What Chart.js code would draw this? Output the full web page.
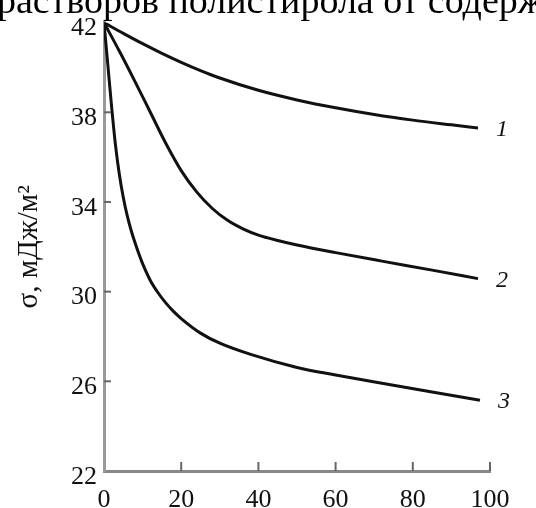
<!DOCTYPE html>
<html>
<head>
<meta charset="utf-8">
<script src="https://cdn.jsdelivr.net/npm/chart.js@4.4.0/dist/chart.umd.min.js"></script>
<style>
  html, body { margin: 0; padding: 0; background: #fff; }
  #wrap { width: 536px; height: 508px; position: relative; overflow: hidden; }
</style>
</head>
<body>
<div id="wrap"><canvas id="myChart" width="536" height="508"></canvas></div>
<script>
// кривые 1, 2, 3: σ (мДж/м²) от содержания
const curve1X = [0, 5, 10, 15, 20, 25, 30, 40, 50, 60, 70, 80, 90, 96.9];
const curve1Y = [42, 41.52, 41.06, 40.63, 40.23, 39.86, 39.53, 38.98, 38.55, 38.2, 37.9, 37.65, 37.44, 37.3];

const curve2X = [0, 4, 8, 12, 16, 20, 24, 28, 32, 36, 40, 45, 50, 60, 72, 85, 96.9];
const curve2Y = [42, 40.72, 39.38, 38.0, 36.62, 35.4, 34.45, 33.72, 33.18, 32.8, 32.52, 32.28, 32.08, 31.74, 31.36, 30.96, 30.58];

const curve3X = [0, 1, 2, 3, 4, 5, 6, 7, 8, 9, 10, 12, 14, 16, 18, 20, 25, 30, 38, 50, 60, 72, 85, 97.4];
const curve3Y = [42, 40.1, 38.2, 36.5, 35.2, 34.2, 33.4, 32.75, 32.2, 31.7, 31.25, 30.5, 29.95, 29.5, 29.12, 28.8, 28.15, 27.7, 27.2, 26.62, 26.28, 25.91, 25.52, 25.16];

const curveLabels = ['1', '2', '3'];
const xTicks = [0, 20, 40, 60, 80, 100];
const yTicks = [22, 26, 30, 34, 38, 42];
const yTitle = 'σ, мДж/м²';
const headerText = 'растворов полистирола от содерж';

const toPoints = (xs, ys) => xs.map((x, i) => ({ x: x, y: ys[i] }));

/* обрезанная строка сверху, засечки внутрь и номера кривых */
const extras = {
  id: 'extras',
  beforeDraw(chart) {
    const { ctx } = chart;
    ctx.save();
    ctx.font = '38px "Liberation Serif"';
    ctx.textBaseline = 'alphabetic';
    ctx.fillStyle = '#000';
    ctx.fillText(headerText, -3, 13);
    ctx.restore();
  },
  afterDraw(chart) {
    const { ctx, scales: { x, y } } = chart;
    ctx.save();
    // засечки
    ctx.strokeStyle = '#666';
    ctx.lineWidth = 2;
    xTicks.slice(1).forEach((v) => {
      const px = x.getPixelForValue(v);
      ctx.beginPath();
      ctx.moveTo(px, y.bottom);
      ctx.lineTo(px, y.bottom - 9);
      ctx.stroke();
    });
    yTicks.slice(1, -1).forEach((v) => {
      const py = y.getPixelForValue(v);
      ctx.beginPath();
      ctx.moveTo(x.left, py);
      ctx.lineTo(x.left + 7, py);
      ctx.stroke();
    });
    // номера кривых
    ctx.fillStyle = '#111';
    ctx.font = 'italic 24px "Liberation Serif"';
    ctx.textBaseline = 'middle';
    ctx.textAlign = 'left';
    chart.data.datasets.forEach((ds, i) => {
      const last = ds.data[ds.data.length - 1];
      ctx.fillText(curveLabels[i], x.getPixelForValue(last.x) + 18, y.getPixelForValue(last.y) + 2);
    });
    ctx.restore();
  },
};

const ctx = document.getElementById('myChart');

new Chart(ctx, {
  type: 'line',
  data: {
    datasets: [
      { data: toPoints(curve1X, curve1Y) },
      { data: toPoints(curve2X, curve2Y) },
      { data: toPoints(curve3X, curve3Y) },
    ].map((d) => ({
      ...d,
      borderColor: '#111',
      borderWidth: 3,
      pointRadius: 0,
      fill: false,
      cubicInterpolationMode: 'monotone',
    })),
  },
  options: {
    responsive: false,
    animation: false,
    layout: { padding: { left: 0, right: 46, top: 21, bottom: 0 } },
    plugins: { legend: { display: false }, tooltip: { enabled: false } },
    scales: {
      x: {
        type: 'linear',
        min: 0,
        max: 100,
        afterBuildTicks: (s) => { s.ticks = xTicks.map((v) => ({ value: v })); },
        afterFit: (s) => { s.height = 37; },
        grid: { drawOnChartArea: false, drawTicks: false },
        border: { color: '#888', width: 3 },
        ticks: {
          color: '#111',
          padding: 14,
          maxRotation: 0,
          font: { family: 'Liberation Serif', size: 26 },
        },
      },
      y: {
        min: 22,
        max: 42,
        afterBuildTicks: (s) => { s.ticks = yTicks.map((v) => ({ value: v })); },
        afterFit: (s) => { s.width = 104; },
        grid: { drawOnChartArea: false, drawTicks: false },
        border: { color: '#999', width: 3 },
        ticks: {
          color: '#111',
          padding: 7,
          labelOffset: 6,
          font: { family: 'Liberation Serif', size: 26 },
        },
        title: {
          display: true,
          text: yTitle,
          color: '#111',
          padding: { top: 12, bottom: 0 },
          font: { family: 'Liberation Serif', size: 29 },
        },
      },
    },
  },
  plugins: [extras],
});
</script>
</body>
</html>
